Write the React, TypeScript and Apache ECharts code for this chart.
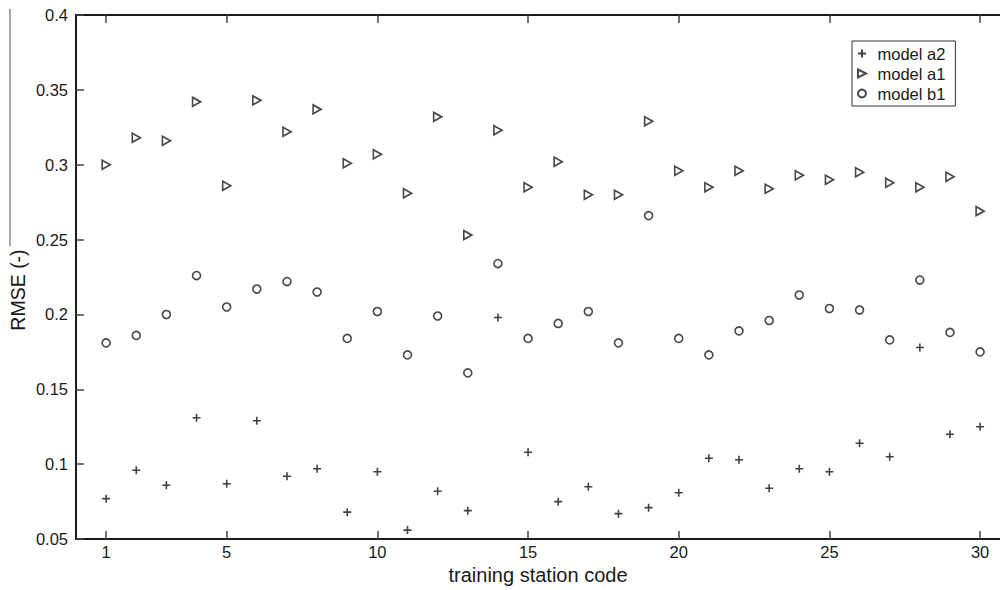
import { useEffect, useRef } from "react";
import * as echarts from "echarts";

const stations = [
  1, 2, 3, 4, 5, 6, 7, 8, 9, 10, 11, 12, 13, 14, 15, 16, 17, 18, 19, 20, 21, 22, 23, 24, 25, 26, 27, 28, 29, 30,
];

const modelA2 = [
  0.077, 0.096, 0.086, 0.131, 0.087, 0.129, 0.092, 0.097, 0.068, 0.095, 0.056, 0.082, 0.069, 0.198, 0.108,
  0.075, 0.085, 0.067, 0.071, 0.081, 0.104, 0.103, 0.084, 0.097, 0.095, 0.114, 0.105, 0.178, 0.12, 0.125,
];

const modelA1 = [
  0.3, 0.318, 0.316, 0.342, 0.286, 0.343, 0.322, 0.337, 0.301, 0.307, 0.281, 0.332, 0.253, 0.323, 0.285,
  0.302, 0.28, 0.28, 0.329, 0.296, 0.285, 0.296, 0.284, 0.293, 0.29, 0.295, 0.288, 0.285, 0.292, 0.269,
];

const modelB1 = [
  0.181, 0.186, 0.2, 0.226, 0.205, 0.217, 0.222, 0.215, 0.184, 0.202, 0.173, 0.199, 0.161, 0.234, 0.184,
  0.194, 0.202, 0.181, 0.266, 0.184, 0.173, 0.189, 0.196, 0.213, 0.204, 0.203, 0.183, 0.223, 0.188, 0.175,
];

const xTickValues = [1, 5, 10, 15, 20, 25, 30];
const seriesNames = ["model a2", "model a1", "model b1"];

const FONT = "'Liberation Sans', Arial, Helvetica, sans-serif";
const INK = "#1a1a1a";

const PLUS = "path://M0,5 L10,5 M5,0 L5,10";
const TRIANGLE = "path://M0,0 L10,5 L0,10 Z";

export default function App() {
  const ref = useRef<HTMLDivElement>(null);

  useEffect(() => {
    if (!ref.current) return;
    const chart = echarts.init(ref.current, undefined, { renderer: "svg" });

    const zip = (vals: number[]) => stations.map((s, i) => [s, vals[i]]);

    const axisLine = { show: true, onZero: false, lineStyle: { color: INK, width: 2 } };
    const axisTickX = {
      show: true,
      inside: true,
      length: 8,
      customValues: xTickValues,
      lineStyle: { color: "#444", width: 1.5 },
    };

    chart.setOption({
      animation: false,
      backgroundColor: "#ffffff",
      textStyle: { fontFamily: FONT },
      grid: { left: 76, top: 15, width: 924, height: 527, containLabel: false },
      legend: {
        show: true,
        data: seriesNames,
        orient: "vertical",
        left: 852,
        top: 41,
        padding: [4, 10, 4, 5],
        itemWidth: 21,
        itemHeight: 8,
        itemGap: 3,
        borderColor: "#333",
        borderWidth: 1,
        backgroundColor: "#fff",
        textStyle: { fontSize: 16.5, color: INK, fontFamily: FONT },
      },
      xAxis: [
        {
          type: "value",
          position: "bottom",
          min: 0,
          max: 30.66,
          axisLine,
          axisTick: axisTickX,
          axisLabel: {
            customValues: xTickValues,
            color: INK,
            fontSize: 16.5,
            margin: 4,
            fontFamily: FONT,
          },
          splitLine: { show: false },
          name: "training station code",
          nameLocation: "middle",
          nameGap: 25,
          nameTextStyle: { fontSize: 20, color: INK, fontFamily: FONT },
        },
        {
          type: "value",
          position: "top",
          min: 0,
          max: 30.66,
          axisLine,
          axisTick: axisTickX,
          axisLabel: { show: false },
          splitLine: { show: false },
        },
      ],
      yAxis: {
        type: "value",
        min: 0.05,
        max: 0.4,
        interval: 0.05,
        axisLine,
        axisTick: { show: true, inside: true, length: 8, lineStyle: { color: "#444", width: 1.5 } },
        axisLabel: {
          color: INK,
          fontSize: 16.5,
          margin: 8,
          fontFamily: FONT,
          formatter: (v: number) => String(+v.toFixed(2)),
        },
        splitLine: { show: false },
      },
      graphic: [
        {
          type: "line",
          shape: { x1: 10, y1: 9, x2: 10, y2: 246 },
          style: { stroke: "#8a8a8a", lineWidth: 1.5 },
          silent: true,
        },
        {
          type: "text",
          x: 18,
          y: 290,
          rotation: Math.PI / 2,
          style: {
            text: "RMSE (-)",
            fontSize: 19.5,
            fontFamily: FONT,
            fill: INK,
            align: "center",
            verticalAlign: "middle",
          },
          silent: true,
        },
      ],
      series: [
        {
          name: seriesNames[0],
          type: "scatter",
          data: zip(modelA2),
          symbol: PLUS,
          symbolSize: 8,
          itemStyle: { color: "transparent", borderColor: "#111", borderWidth: 1.6 },
        },
        {
          name: seriesNames[1],
          type: "scatter",
          data: zip(modelA1),
          symbol: TRIANGLE,
          symbolSize: [8, 9],
          itemStyle: { color: "#fff", borderColor: "#1a1a1a", borderWidth: 1.7 },
        },
        {
          name: seriesNames[2],
          type: "scatter",
          data: zip(modelB1),
          symbol: "circle",
          symbolSize: 8,
          itemStyle: { color: "#fff", borderColor: "#1a1a1a", borderWidth: 1.6 },
        },
      ],
    });

    return () => chart.dispose();
  }, []);

  return (
    <div
      ref={ref}
      style={{ position: "fixed", left: 0, top: 0, width: 1000, height: 590, background: "#fff" }}
    />
  );
}
